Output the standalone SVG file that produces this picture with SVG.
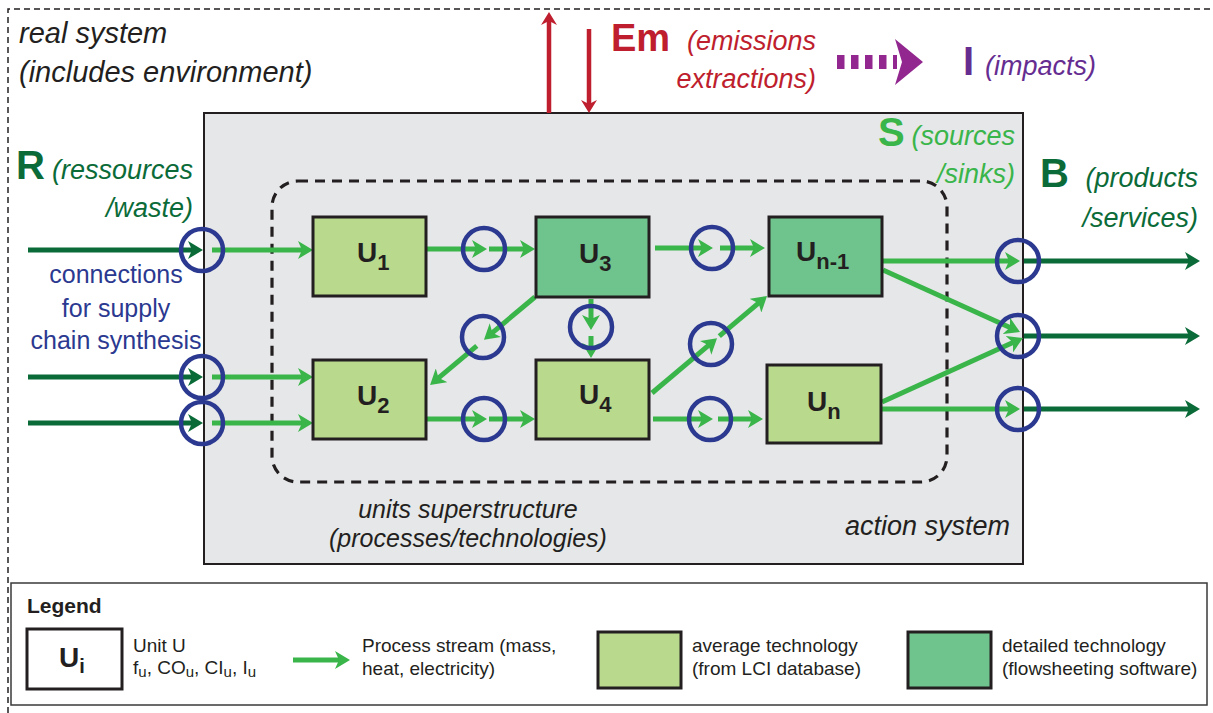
<svg xmlns="http://www.w3.org/2000/svg" width="1213" height="713" viewBox="0 0 1213 713">
<style>
text { font-family: "Liberation Sans", Arial, sans-serif; }
.it { font-style: italic; }
.bd { font-weight: bold; }
.g { stroke: #39b54a; stroke-width: 5; fill: none; marker-end: url(#ag); }
.d { stroke: #0b6b38; stroke-width: 5; fill: none; marker-end: url(#ad); }
.r { stroke: #be1e2d; stroke-width: 4.5; fill: none; marker-end: url(#ar); }
.port { fill: none; stroke: #2b3990; stroke-width: 4.5; }
.unit { stroke: #231f20; stroke-width: 3; }
.avg { fill: #b9d98c; }
.det { fill: #6fc48d; }
.ul { font-weight: bold; font-size: 28px; fill: #231f20; }
.lg { font-size: 19px; fill: #231f20; }
</style>
<defs>
<marker id="ag" markerUnits="userSpaceOnUse" markerWidth="15" markerHeight="18" refX="7" refY="9" orient="auto" viewBox="0 0 15 18">
<path d="M0,0 L15,9 L0,18 L4,9 z" fill="#39b54a"/>
</marker>
<marker id="ad" markerUnits="userSpaceOnUse" markerWidth="15" markerHeight="18" refX="7" refY="9" orient="auto" viewBox="0 0 15 18">
<path d="M0,0 L15,9 L0,18 L4,9 z" fill="#0b6b38"/>
</marker>
<marker id="ar" markerUnits="userSpaceOnUse" markerWidth="13" markerHeight="16" refX="6" refY="8" orient="auto" viewBox="0 0 13 16">
<path d="M0,0 L13,8 L0,16 L4,8 z" fill="#be1e2d"/>
</marker>
</defs>
<rect width="1213" height="713" fill="#fff"/>
<path id="real-system" d="M8,713 V9 H1213" fill="none" stroke="#231f20" stroke-width="1.5" stroke-dasharray="6 4"/>
<rect id="action-system" x="204" y="113" width="819" height="451" fill="#e6e7e8" stroke="#231f20" stroke-width="2"/>
<rect id="superstructure" x="272" y="181" width="675" height="301" rx="26" fill="none" stroke="#231f20" stroke-width="3.2" stroke-dasharray="10 7"/>

<g id="labels">
<text class="it" x="19" y="43" font-size="29" fill="#231f20">real system</text>
<text class="it" x="19" y="82" font-size="29" fill="#231f20">(includes environment)</text>
<text class="bd" x="611" y="51" font-size="38" fill="#be1e2d">Em</text>
<text class="it" x="816" y="50" font-size="27" fill="#be1e2d" text-anchor="end">(emissions</text>
<text class="it" x="816" y="88" font-size="27" fill="#be1e2d" text-anchor="end">extractions)</text>
<text class="bd" x="963" y="75" font-size="40" fill="#662d91">I</text>
<text class="it" x="985" y="75" font-size="27" fill="#662d91">(impacts)</text>
<text class="bd" x="878" y="146" font-size="40" fill="#39b54a">S</text>
<text class="it" x="1015" y="145" font-size="27" fill="#39b54a" text-anchor="end">(sources</text>
<text class="it" x="1015" y="183" font-size="27" fill="#39b54a" text-anchor="end">/sinks)</text>
<text class="bd" x="1040" y="187" font-size="40" fill="#0b6b38">B</text>
<text class="it" x="1198" y="187" font-size="27" fill="#0b6b38" text-anchor="end">(products</text>
<text class="it" x="1198" y="227" font-size="27" fill="#0b6b38" text-anchor="end">/services)</text>
<text class="bd" x="16" y="179" font-size="40" fill="#0b6b38">R</text>
<text class="it" x="193" y="179" font-size="27" fill="#0b6b38" text-anchor="end">(ressources</text>
<text class="it" x="193" y="217" font-size="27" fill="#0b6b38" text-anchor="end">/waste)</text>
<text x="116" y="283" font-size="25" fill="#2b3990" text-anchor="middle">connections</text>
<text x="116" y="317" font-size="25" fill="#2b3990" text-anchor="middle">for supply</text>
<text x="116" y="349" font-size="25" fill="#2b3990" text-anchor="middle">chain synthesis</text>
<text class="it" x="468" y="518" font-size="25" fill="#231f20" text-anchor="middle">units superstructure</text>
<text class="it" x="468" y="547" font-size="25" fill="#231f20" text-anchor="middle">(processes/technologies)</text>
<text class="it" x="1010" y="535" font-size="27" fill="#231f20" text-anchor="end">action system</text>
</g>

<g id="connectors">
<line class="r" x1="549" y1="113" x2="549" y2="19"/>
<line class="r" x1="589" y1="29" x2="589" y2="106"/>
<line x1="837" y1="62" x2="897" y2="62" stroke="#92278f" stroke-width="14" stroke-dasharray="7.5 6.5"/>
<path d="M895,39 L923,62 L895,85 L902,62 z" fill="#92278f"/>
<line class="d" x1="28" y1="250" x2="195" y2="250"/>
<line class="d" x1="28" y1="377" x2="195" y2="377"/>
<line class="d" x1="28" y1="423" x2="195" y2="423"/>
<line class="g" x1="212" y1="250" x2="305" y2="250"/>
<line class="g" x1="212" y1="377" x2="305" y2="377"/>
<line class="g" x1="212" y1="423" x2="305" y2="423"/>
<line class="g" x1="427" y1="249" x2="479" y2="249"/>
<line class="g" x1="489" y1="249" x2="527" y2="249"/>
<line class="g" x1="655" y1="248" x2="705" y2="248"/>
<line class="g" x1="720" y1="248" x2="757" y2="248"/>
<line class="g" x1="427" y1="419" x2="479" y2="419"/>
<line class="g" x1="489" y1="419" x2="527" y2="419"/>
<line class="g" x1="653" y1="419" x2="705" y2="419"/>
<line class="g" x1="718" y1="419" x2="755" y2="419"/>
<line class="g" x1="591" y1="299" x2="591" y2="322"/>
<line class="g" x1="591" y1="336" x2="591" y2="350"/>
<line class="g" x1="535" y1="297" x2="490.1" y2="334.6"/>
<line class="g" x1="476.8" y1="345.8" x2="436.2" y2="379.8"/>
<line class="g" x1="652" y1="393" x2="710.9" y2="343.3"/>
<line class="g" x1="719.3" y1="336.2" x2="760.9" y2="301.2"/>
<line class="g" x1="883" y1="261" x2="1012" y2="261"/>
<line class="g" x1="883" y1="270" x2="1012.7" y2="328.7"/>
<line class="g" x1="882" y1="402" x2="1015.7" y2="341.3"/>
<line class="g" x1="882" y1="409" x2="1012" y2="409"/>
<line class="d" x1="1024" y1="261" x2="1192" y2="261"/>
<line class="d" x1="1024" y1="336" x2="1192" y2="336"/>
<line class="d" x1="1024" y1="409" x2="1192" y2="409"/>
</g>

<g id="ports">
<circle class="port" cx="202" cy="250" r="21"/>
<circle class="port" cx="202" cy="377" r="21"/>
<circle class="port" cx="202" cy="423" r="21"/>
<circle class="port" cx="484" cy="249" r="21"/>
<circle class="port" cx="712" cy="248" r="21"/>
<circle class="port" cx="484" cy="419" r="21"/>
<circle class="port" cx="710" cy="419" r="21"/>
<circle class="port" cx="591" cy="327" r="21"/>
<circle class="port" cx="483" cy="337" r="21"/>
<circle class="port" cx="711" cy="344" r="21"/>
<circle class="port" cx="1018" cy="261" r="21"/>
<circle class="port" cx="1018" cy="336" r="21"/>
<circle class="port" cx="1018" cy="409" r="21"/>
</g>

<g id="U1">
<rect class="unit avg" x="313" y="217" width="113" height="79"/>
<text class="ul" x="357" y="262">U<tspan font-size="22" dy="8">1</tspan></text>
</g>
<g id="U2">
<rect class="unit avg" x="313" y="360" width="113" height="79"/>
<text class="ul" x="357" y="405">U<tspan font-size="22" dy="8">2</tspan></text>
</g>
<g id="U3">
<rect class="unit det" x="536" y="217" width="113" height="80"/>
<text class="ul" x="579" y="263">U<tspan font-size="22" dy="8">3</tspan></text>
</g>
<g id="U4">
<rect class="unit avg" x="536" y="360" width="113" height="79"/>
<text class="ul" x="579" y="404">U<tspan font-size="22" dy="8">4</tspan></text>
</g>
<g id="Un-1">
<rect class="unit det" x="769" y="217" width="113" height="79"/>
<text class="ul" x="796" y="261">U<tspan font-size="22" dy="8">n-1</tspan></text>
</g>
<g id="Un">
<rect class="unit avg" x="767" y="365" width="114" height="78"/>
<text class="ul" x="807" y="411">U<tspan font-size="22" dy="8">n</tspan></text>
</g>

<g id="legend">
<rect x="11" y="583" width="1196" height="122" fill="#fff" stroke="#3a3a3a" stroke-width="1.5"/>
<text class="bd" x="27" y="613" font-size="21" fill="#231f20">Legend</text>
<rect x="27" y="629" width="95" height="60" fill="#fff" class="unit"/>
<text class="bd" x="59" y="667" font-size="28" fill="#231f20">U<tspan font-size="20" dy="6">i</tspan></text>
<text class="lg" x="133" y="652">Unit U</text>
<text class="lg" x="133" y="674">f<tspan font-size="15" dy="3">u</tspan><tspan dy="-3">, CO</tspan><tspan font-size="15" dy="3">u</tspan><tspan dy="-3">, CI</tspan><tspan font-size="15" dy="3">u</tspan><tspan dy="-3">, I</tspan><tspan font-size="15" dy="3">u</tspan></text>
<line class="g" x1="293" y1="660" x2="342" y2="660"/>
<text class="lg" x="362" y="652">Process stream (mass,</text>
<text class="lg" x="362" y="675">heat, electricity)</text>
<rect class="unit avg" x="598" y="632" width="83" height="56"/>
<text class="lg" x="692" y="652">average technology</text>
<text class="lg" x="692" y="675">(from LCI database)</text>
<rect class="unit det" x="908" y="632" width="83" height="56"/>
<text class="lg" x="1002" y="652">detailed technology</text>
<text class="lg" x="1002" y="675">(flowsheeting software)</text>
</g>
</svg>
